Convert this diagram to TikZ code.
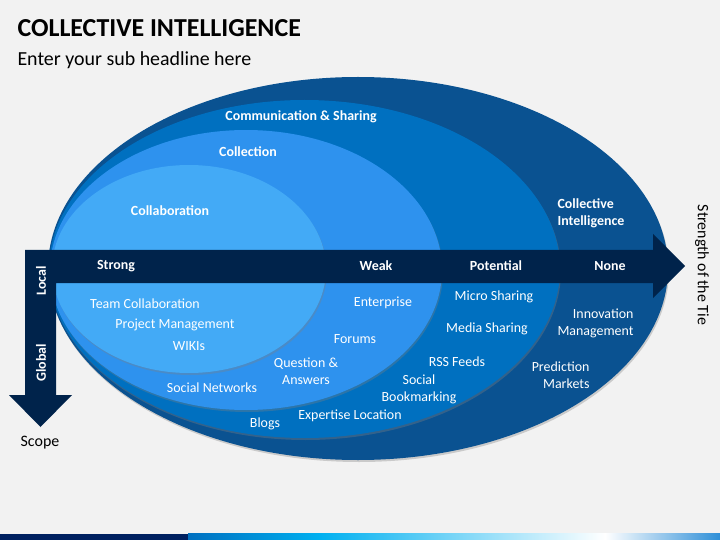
\documentclass[tikz,border=0pt]{standalone}
\usepackage{fontspec}
\setmainfont{Carlito}
\usetikzlibrary{shadows}

\definecolor{pagebg}{HTML}{F2F2F2}
\definecolor{ringA}{HTML}{0A5291}
\definecolor{ringB}{HTML}{0070C0}
\definecolor{ringC}{HTML}{2E92EE}
\definecolor{ringD}{HTML}{43AAF6}
\definecolor{navy}{HTML}{00234B}
\definecolor{barnavy}{HTML}{002060}
\definecolor{barcyan}{HTML}{00B0F0}
\definecolor{barblue}{HTML}{2E8FD8}

\begin{document}
\begin{tikzpicture}[
  x=1bp, y=-1bp,
  ring/.style={drop shadow={opacity=0.35,shadow xshift=1bp,shadow yshift=-2bp}},
  tlbl/.style={text=white,font=\bfseries\fontsize{14}{17}\selectfont,align=left},
  slbl/.style={text=white,font=\fontsize{14}{17}\selectfont,align=center},
  axlbl/.style={text=white,font=\bfseries\fontsize{14}{17}\selectfont},
  blbl/.style={text=black,font=\fontsize{16}{19}\selectfont}
]
  \useasboundingbox[fill=pagebg] (0,0) rectangle (720,540);

  % heading
  \node[anchor=west,font=\bfseries\fontsize{26}{30}\selectfont] (title) at (14,28) {COLLECTIVE INTELLIGENCE};
  \node[anchor=west,font=\fontsize{20}{24}\selectfont] (subtitle) at (14,60) {Enter your sub headline here};

  % rings
  \fill[ringA,ring] (358,268.5) ellipse [x radius=310, y radius=191.5];
  \fill[ringB,ring] (304.5,269) ellipse [x radius=255.5, y radius=169];
  \fill[ringC,ring] (246,270) ellipse [x radius=196, y radius=140];
  \fill[ringD,ring] (189,269) ellipse [x radius=137, y radius=104];

  % axes
  \fill[navy] (25,250) -- (653,250) -- (653,234) -- (685,266) -- (653,298) -- (653,283)
    -- (56,283) -- (56,395) -- (72,395) -- (40.5,427) -- (9,395) -- (25,395) -- cycle;

  % ring titles
  \node[tlbl] (share) at (301,117) {Communication \& Sharing};
  \node[tlbl] (collect) at (248,152) {Collection};
  \node[tlbl] (collab) at (170,211) {Collaboration};
  \node[tlbl,anchor=west] (ci) at (554,213) {Collective\\Intelligence};

  % tie strength
  \node[axlbl] (strong) at (116,266) {Strong};
  \node[axlbl] (weak) at (376,266) {Weak};
  \node[axlbl] (potential) at (496,266) {Potential};
  \node[axlbl] (none) at (610,266) {None};

  % scope
  \node[axlbl,rotate=90] (local) at (41,281) {Local};
  \node[axlbl,rotate=90] (global) at (41,363) {Global};
  \node[blbl] (scope) at (40,443) {Scope};
  \node[blbl,rotate=-90] (tie) at (702,265) {Strength of the Tie};

  % collaboration items
  \node[slbl] (team) at (145,304) {Team Collaboration};
  \node[slbl] (project) at (175,325) {Project Management};
  \node[slbl] (wikis) at (189,346) {WIKIs};

  % collection items
  \node[slbl] (social) at (212,388) {Social Networks};
  \node[slbl] (qa) at (306,371) {Question \&\\Answers};
  \node[slbl] (enterprise) at (383,303) {Enterprise};
  \node[slbl] (forums) at (355,339) {Forums};

  % sharing items
  \node[slbl] (blogs) at (265,424) {Blogs};
  \node[slbl] (expertise) at (350,416) {Expertise Location};
  \node[slbl] (micro) at (494,297) {Micro Sharing};
  \node[slbl] (media) at (487,329) {Media Sharing};
  \node[slbl] (rss) at (457,362) {RSS Feeds};
  \node[slbl] (bookmark) at (419,389) {Social\\Bookmarking};

  % collective intelligence items
  \node[slbl,align=right,anchor=east] (innovation) at (637,323) {Innovation\\Management};
  \node[slbl,align=right,anchor=east] (prediction) at (593,375) {Prediction\\Markets};

  % footer band
  \fill[barnavy] (0,533.5) rectangle (188,540);
  \shade[left color=ringB,right color=barcyan] (188,533.5) rectangle (320,540);
  \shade[left color=barcyan,right color=white] (320,533.5) rectangle (605,540);
  \shade[left color=white,right color=barblue] (605,533.5) rectangle (720,540);
\end{tikzpicture}
\end{document}
